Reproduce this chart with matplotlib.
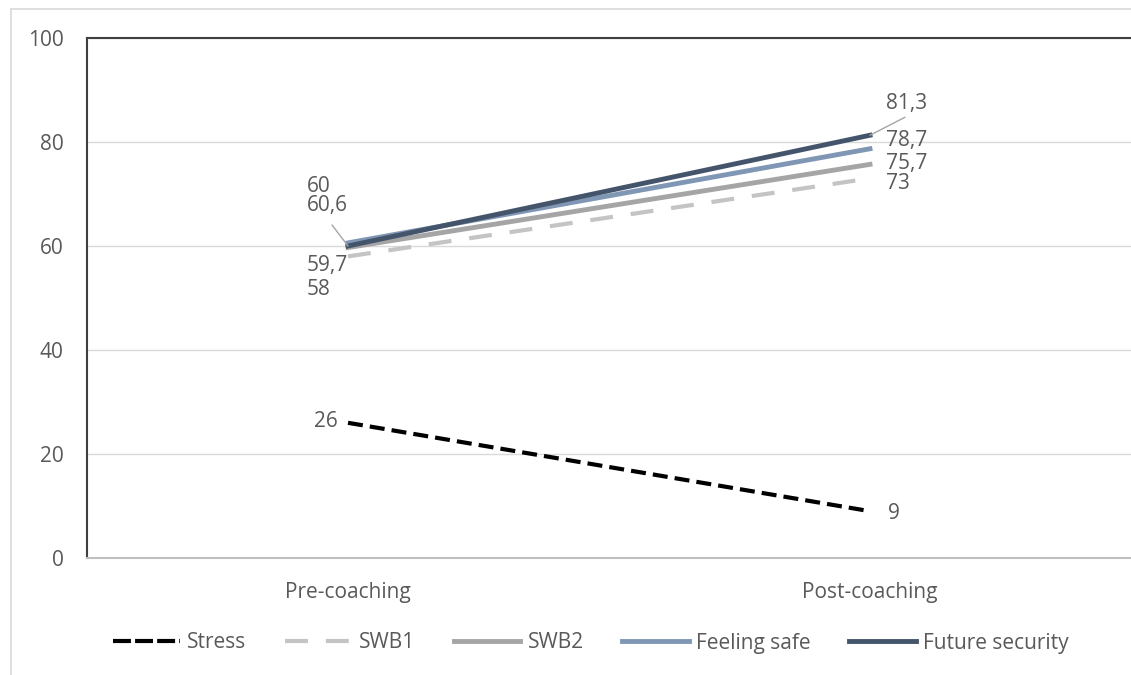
import matplotlib.pyplot as plt
from matplotlib.lines import Line2D

categories = ["Pre-coaching", "Post-coaching"]
series = ["Stress", "SWB1", "SWB2", "Feeling safe", "Future security"]
stress = [26, 9]
swb1 = [58, 73]
swb2 = [59.7, 75.7]
feeling_safe = [60.6, 78.7]
future_security = [60, 81.3]

plt.rcParams['font.family'] = ['Open Sans', 'DejaVu Sans']
txt = '#595959'
fs = 15

fig = plt.figure(figsize=(11.31, 6.75), dpi=100)
ax = fig.add_axes([87/1131, 1 - 558/675, 1 - 87/1131, (558 - 38)/675])

x = [0, 1]
ax.plot(x, stress, color='black', lw=3, dashes=(3.6, 1.7))
ax.plot(x, swb1, color='#c4c4c4', lw=3, dashes=(5.5, 4.3))
ax.plot(x, swb2, color='#a5a5a5', lw=3.5)
ax.plot(x, feeling_safe, color='#7f96b4', lw=3.5)
ax.plot(x, future_security, color='#44546a', lw=3.5)

ax.set_xlim(-0.5, 1.5)
ax.set_ylim(0, 100)
ax.set_yticks(range(0, 101, 20))
ax.set_xticks(x)
ax.set_xticklabels(categories)
ax.tick_params(length=0, labelsize=fs, colors=txt)
ax.tick_params(axis='y', pad=17)
ax.tick_params(axis='x', pad=17)
ax.grid(axis='y', color='#d9d9d9', lw=1)
ax.set_axisbelow(True)
ax.spines['right'].set_visible(False)
for s in ['left', 'top']:
    ax.spines[s].set_color('#404040')
    ax.spines[s].set_linewidth(1.5)
ax.spines['bottom'].set_color('#bfbfbf')
ax.spines['bottom'].set_linewidth(1.5)

lab = lambda v: str(v).replace('.', ',')


def label(val, xi, dx, dy, ha='left'):
    ax.annotate(lab(val), (xi, val), xytext=(dx, dy), textcoords='offset pixels',
                fontsize=fs, color=txt, va='center', ha=ha)


# pre-coaching labels
label(future_security[0], 0, -41, 59)
label(feeling_safe[0], 0, -41, 37)
label(swb2[0], 0, -41, -18)
label(swb1[0], 0, -41, -33)
label(stress[0], 0, -10, 1, ha='right')
ax.annotate('', (0, future_security[0]), xytext=(-16, 21), textcoords='offset pixels',
            arrowprops=dict(arrowstyle='-', color='#a5a5a5', lw=1, shrinkA=0, shrinkB=0))
# post-coaching labels
label(future_security[1], 1, 16, 32)
label(feeling_safe[1], 1, 16, 8)
label(swb2[1], 1, 16, 1)
label(swb1[1], 1, 16, -5)
label(stress[1], 1, 18, -2)
ax.annotate('', (1, future_security[1]), xytext=(35, 18), textcoords='offset pixels',
            arrowprops=dict(arrowstyle='-', color='#a5a5a5', lw=1, shrinkA=0, shrinkB=0))

handles = [
    Line2D([], [], color='black', lw=3, dashes=(4.3, 1)),
    Line2D([], [], color='#c4c4c4', lw=3, dashes=(5.5, 4.3)),
    Line2D([], [], color='#a5a5a5', lw=3.5),
    Line2D([], [], color='#7f96b4', lw=3.5),
    Line2D([], [], color='#44546a', lw=3.5),
]
leg = fig.legend(handles, series, loc='center', bbox_to_anchor=(591/1131, 1 - 643/675), ncol=5,
                 frameon=False, fontsize=fs, handlelength=3.2, handletextpad=0.35,
                 columnspacing=1.85)
for t in leg.get_texts():
    t.set_color(txt)

# outer chart border (top and left visible)
fig.add_artist(Line2D([11/1131, 1], [1 - 9/675] * 2, color='#d9d9d9', lw=1.2))
fig.add_artist(Line2D([11/1131] * 2, [0, 1 - 9/675], color='#d9d9d9', lw=1.2))

fig.savefig('out.png', dpi=100)
